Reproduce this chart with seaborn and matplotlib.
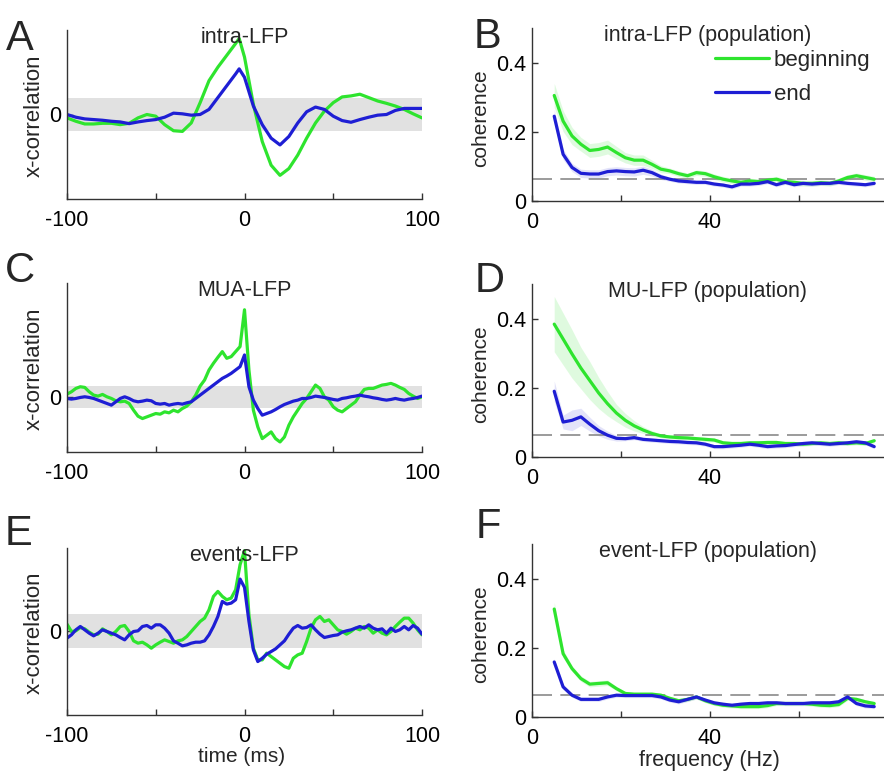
import numpy as np
import pandas as pd
import matplotlib
matplotlib.use("Agg")
import matplotlib.pyplot as plt
import seaborn as sns

# ---------------- data ----------------
# x-correlation panels (arbitrary units, time in ms)
time_a = [-100, -95, -90, -85, -80, -75, -70, -65, -60, -55, -50, -45, -40, -35, -30, -25,
          -20, -15, -10, -5, -3, 0, 5, 10, 15, 20, 25, 30, 35, 40, 45, 50, 55, 60, 65, 70,
          75, 80, 85, 90, 95, 100]
green_a = [-0.10, -0.20, -0.28, -0.28, -0.26, -0.26, -0.30, -0.26, -0.10, 0.00,
           -0.05, -0.30, -0.48, -0.50, -0.25, 0.35, 1.00, 1.40, 1.75, 2.10, 2.25,
           1.70, 0.30, -0.80, -1.50, -1.80, -1.60, -1.20, -0.70, -0.25, 0.10, 0.35,
           0.52, 0.55, 0.60, 0.50, 0.40, 0.33, 0.25, 0.15, 0.02, -0.10]
blue_a = [0.00, -0.08, -0.13, -0.15, -0.17, -0.20, -0.22, -0.27, -0.22, -0.18,
          -0.15, -0.08, 0.04, 0.02, -0.02, 0.00, 0.15, 0.50, 0.85, 1.20, 1.35,
          1.10, 0.25, -0.30, -0.70, -0.90, -0.65, -0.25, 0.08, 0.22, 0.15, -0.05,
          -0.18, -0.23, -0.15, -0.08, -0.02, 0.00, 0.12, 0.18, 0.18, 0.18]

time_ce = np.arange(-100, 100.01, 2.5)
green_c = [0.10, 0.17, 0.27, 0.32, 0.30, 0.17, 0.07, 0.04, 0.09, 0.02,
           -0.03, -0.10, -0.13, -0.11, -0.18, -0.38, -0.56, -0.63, -0.58, -0.53,
           -0.48, -0.50, -0.43, -0.46, -0.38, -0.43, -0.33, -0.26, -0.13, 0.07,
           0.34, 0.52, 0.82, 1.02, 1.20, 1.37, 1.17, 1.22, 1.37, 1.52,
           2.62, 0.82, -0.38, -0.88, -1.23, -1.13, -1.03, -1.23, -1.33, -1.18,
           -0.83, -0.58, -0.38, -0.18, -0.03, 0.17, 0.37, 0.27, 0.02, -0.08,
           -0.28, -0.38, -0.43, -0.33, -0.23, -0.13, 0.07, 0.24, 0.27, 0.27,
           0.32, 0.37, 0.39, 0.42, 0.37, 0.30, 0.24, 0.12, 0.04, -0.03, 0.02]
blue_c = [-0.03, -0.05, -0.03, 0.00, 0.02, 0.00, -0.03, -0.08, -0.13, -0.18,
          -0.23, -0.13, -0.03, 0.02, -0.03, -0.10, -0.13, -0.11, -0.08, -0.10,
          -0.18, -0.20, -0.18, -0.23, -0.20, -0.18, -0.20, -0.16, -0.13, -0.03,
          0.07, 0.17, 0.27, 0.37, 0.47, 0.57, 0.64, 0.72, 0.82, 0.92,
          1.27, 0.32, -0.08, -0.33, -0.53, -0.48, -0.43, -0.36, -0.28, -0.21,
          -0.16, -0.11, -0.08, -0.03, -0.03, 0.00, 0.04, 0.02, 0.00, -0.03,
          -0.06, -0.08, -0.03, -0.01, 0.02, 0.04, 0.07, 0.04, 0.02, -0.01,
          -0.03, -0.06, -0.08, -0.06, -0.03, -0.06, -0.08, -0.05, -0.03, 0.00, 0.04]
green_e = [0.20, -0.02, 0.00, 0.10, 0.06, -0.04, -0.12, -0.10, 0.06, -0.02,
           -0.12, -0.02, 0.13, 0.16, -0.02, -0.30, -0.37, -0.34, -0.42, -0.52,
           -0.42, -0.34, -0.27, -0.32, -0.37, -0.30, -0.27, -0.17, -0.02, 0.13,
           0.28, 0.38, 0.63, 1.03, 1.18, 1.03, 0.93, 0.98, 1.23, 1.98,
           2.40, 0.48, -0.52, -0.87, -0.87, -0.67, -0.77, -0.87, -0.97, -1.07,
           -1.12, -0.82, -0.72, -0.67, -0.32, 0.08, 0.33, 0.43, 0.28, 0.33,
           0.18, 0.03, -0.02, -0.10, -0.02, 0.08, 0.03, 0.13, 0.08, -0.07,
           0.03, -0.07, -0.12, -0.02, 0.13, 0.26, 0.38, 0.38, 0.23, 0.03, -0.12]
blue_e = [-0.22, -0.12, 0.03, 0.13, 0.03, -0.07, -0.15, -0.07, 0.03, -0.02,
          -0.07, -0.12, -0.20, -0.27, -0.12, -0.02, 0.00, 0.13, 0.16, 0.08,
          0.18, 0.18, 0.08, -0.07, -0.30, -0.37, -0.45, -0.42, -0.37, -0.34,
          -0.34, -0.30, -0.12, 0.13, 0.43, 0.88, 0.80, 0.83, 0.93, 1.55,
          1.30, 0.28, -0.57, -0.92, -0.82, -0.70, -0.62, -0.54, -0.42, -0.30,
          -0.10, 0.08, 0.16, 0.08, 0.10, 0.18, 0.03, -0.10, -0.20, -0.17,
          -0.14, -0.12, -0.04, 0.00, 0.03, 0.08, 0.13, 0.08, 0.18, 0.08,
          0.03, 0.06, -0.07, 0.08, -0.02, 0.03, 0.13, 0.03, 0.16, 0.08, -0.10]

# coherence panels (frequency in Hz)
freq = np.arange(5, 78, 2)
green_b = [0.305, 0.231, 0.188, 0.164, 0.146, 0.149, 0.156, 0.140, 0.125, 0.118,
           0.118, 0.106, 0.092, 0.087, 0.079, 0.073, 0.082, 0.079, 0.070, 0.063,
           0.058, 0.054, 0.058, 0.056, 0.060, 0.063, 0.056, 0.054, 0.051, 0.051,
           0.053, 0.051, 0.058, 0.068, 0.073, 0.068, 0.063]
blue_b = [0.245, 0.135, 0.097, 0.080, 0.078, 0.078, 0.085, 0.087, 0.085, 0.084,
          0.089, 0.082, 0.070, 0.063, 0.058, 0.056, 0.054, 0.054, 0.049, 0.046,
          0.041, 0.049, 0.049, 0.051, 0.056, 0.047, 0.054, 0.047, 0.051, 0.049,
          0.051, 0.051, 0.054, 0.051, 0.049, 0.047, 0.051]
green_d = [0.384, 0.341, 0.298, 0.257, 0.221, 0.185, 0.154, 0.127, 0.106, 0.090,
           0.078, 0.068, 0.061, 0.058, 0.056, 0.055, 0.053, 0.051, 0.049, 0.041,
           0.039, 0.039, 0.041, 0.041, 0.042, 0.042, 0.039, 0.039, 0.037, 0.039,
           0.041, 0.039, 0.041, 0.039, 0.041, 0.039, 0.047]
blue_d = [0.190, 0.101, 0.106, 0.116, 0.095, 0.076, 0.063, 0.054, 0.053, 0.056,
          0.051, 0.049, 0.047, 0.045, 0.044, 0.042, 0.041, 0.037, 0.030, 0.030,
          0.032, 0.034, 0.037, 0.034, 0.030, 0.032, 0.033, 0.036, 0.039, 0.041,
          0.039, 0.037, 0.039, 0.041, 0.044, 0.041, 0.030]
green_f = [0.312, 0.183, 0.140, 0.111, 0.095, 0.097, 0.099, 0.082, 0.068, 0.066,
           0.066, 0.066, 0.063, 0.054, 0.047, 0.051, 0.058, 0.047, 0.039, 0.034,
           0.032, 0.030, 0.030, 0.030, 0.033, 0.039, 0.039, 0.039, 0.039, 0.037,
           0.034, 0.033, 0.036, 0.054, 0.051, 0.044, 0.039]
blue_f = [0.159, 0.087, 0.063, 0.051, 0.051, 0.051, 0.058, 0.063, 0.062, 0.062,
          0.062, 0.062, 0.058, 0.049, 0.044, 0.051, 0.058, 0.049, 0.041, 0.037,
          0.034, 0.037, 0.039, 0.039, 0.041, 0.041, 0.039, 0.039, 0.039, 0.041,
          0.041, 0.041, 0.044, 0.058, 0.039, 0.032, 0.030]

# error band half widths
sem_green_b = [0.035, 0.030, 0.025, 0.020, 0.020, 0.020, 0.020, 0.018, 0.015, 0.015,
               0.015, 0.012, 0.010, 0.008, 0.008, 0.008, 0.008, 0.008, 0.008, 0.008,
               0.008, 0.008, 0.008, 0.008, 0.008, 0.008, 0.008, 0.008, 0.008, 0.008,
               0.008, 0.008, 0.008, 0.008, 0.008, 0.008, 0.008]
sem_blue_b = [0.020, 0.015, 0.012, 0.012, 0.012, 0.012, 0.012, 0.012, 0.012, 0.012,
              0.012, 0.010, 0.008, 0.006, 0.006, 0.006, 0.006, 0.006, 0.006, 0.006,
              0.006, 0.006, 0.006, 0.006, 0.006, 0.006, 0.006, 0.006, 0.006, 0.006,
              0.006, 0.006, 0.006, 0.006, 0.006, 0.006, 0.006]
sem_green_d = [0.080, 0.075, 0.070, 0.060, 0.055, 0.045, 0.035, 0.025, 0.020, 0.015,
               0.010, 0.008, 0.006, 0.006, 0.006, 0.006, 0.006, 0.006, 0.006, 0.006,
               0.006, 0.006, 0.006, 0.006, 0.006, 0.006, 0.006, 0.006, 0.006, 0.006,
               0.006, 0.006, 0.006, 0.006, 0.006, 0.006, 0.006]
sem_blue_d = [0.030, 0.020, 0.030, 0.025, 0.020, 0.015, 0.012, 0.008, 0.006, 0.006,
              0.006, 0.006, 0.006, 0.006, 0.006, 0.006, 0.006, 0.006, 0.006, 0.006,
              0.006, 0.006, 0.006, 0.006, 0.006, 0.006, 0.006, 0.006, 0.006, 0.006,
              0.006, 0.006, 0.006, 0.006, 0.006, 0.006, 0.006]
sem_green_f = [0.020, 0.012, 0.008, 0.008, 0.008, 0.008, 0.008, 0.006, 0.006, 0.006,
               0.006, 0.006, 0.006, 0.006, 0.006, 0.006, 0.006, 0.006, 0.006, 0.006,
               0.006, 0.006, 0.006, 0.006, 0.006, 0.006, 0.006, 0.006, 0.006, 0.006,
               0.006, 0.006, 0.006, 0.006, 0.006, 0.006, 0.006]
sem_blue_f = [0.010, 0.008, 0.006, 0.006, 0.006, 0.006, 0.006, 0.006, 0.006, 0.006,
              0.006, 0.006, 0.006, 0.006, 0.006, 0.006, 0.006, 0.006, 0.006, 0.006,
              0.006, 0.006, 0.006, 0.006, 0.006, 0.006, 0.006, 0.006, 0.006, 0.006,
              0.006, 0.006, 0.006, 0.006, 0.006, 0.006, 0.006]

conditions = ["beginning", "end"]
chance_level = 0.065

# ---------------- style ----------------
sns.set_theme(style="ticks")
plt.rcParams["font.family"] = ["Liberation Sans", "DejaVu Sans"]

GREEN = "#2ee42e"
BLUE = "#1e1ed4"
PAL = {"beginning": GREEN, "end": BLUE}
GRAY_BAND = "#e1e1e1"
SPINE = "#333333"
TICK_FS = 15.5
TITLE_FS = 15.5
LW = 2.3

W, H = 884, 779
fig = plt.figure(figsize=(W / 100, H / 100), dpi=100)


def add_ax(left, top, right, bottom):
    return fig.add_axes([left / W, 1 - bottom / H, (right - left) / W, (bottom - top) / H])


def style_ax(ax):
    sns.despine(ax=ax)
    for s in ("left", "bottom"):
        ax.spines[s].set_color(SPINE)
        ax.spines[s].set_linewidth(1.0)
    ax.tick_params(direction="in", length=4, width=1, color=SPINE,
                   labelsize=TICK_FS, labelcolor="black")
    ax.tick_params(axis="x", pad=8)
    ax.tick_params(axis="y", pad=4)
    ax.set_facecolor("white")


def long_df(x, g, b):
    n = len(x)
    return pd.DataFrame({"x": list(x) * 2, "v": list(g) + list(b),
                         "cond": [conditions[0]] * n + [conditions[1]] * n})


def xcorr_panel(ax, t, g, b, band, ylim, title, xlabel=False):
    ax.axhspan(-band, band, color=GRAY_BAND, lw=0, zorder=0)
    sns.lineplot(data=long_df(t, g, b), x="x", y="v", hue="cond", palette=PAL,
                 ax=ax, legend=False, lw=LW, estimator=None, sort=False)
    ax.set_xlim(-100, 100)
    ax.set_ylim(*ylim)
    ax.set_xticks([-100, -50, 0, 50, 100])
    ax.set_xticklabels(["-100", "", "0", "", "100"])
    ax.set_yticks([0])
    ax.set_yticklabels(["0"])
    style_ax(ax)
    ax.set_ylabel("x-correlation", fontsize=16)
    ax.yaxis.set_label_coords(-0.062, 0.49)
    if xlabel:
        ax.set_xlabel("time (ms)", fontsize=15)
        ax.xaxis.label.set_va("top")
        ax.xaxis.set_label_coords(0.493, -0.19)
    else:
        ax.set_xlabel("")
    ax.text(0.5, 0.925, title, transform=ax.transAxes, ha="center", va="baseline",
            fontsize=TITLE_FS)


def coh_panel(ax, f, g, b, sg, sb, title, xlabel=False, legend=False):
    g = np.asarray(g); b = np.asarray(b); sg = np.asarray(sg); sb = np.asarray(sb)
    ax.fill_between(f, g - sg, g + sg, color=GREEN, alpha=0.15, lw=0)
    ax.fill_between(f, b - sb, b + sb, color=BLUE, alpha=0.12, lw=0)
    ax.axhline(chance_level, color="#8a8a8a", lw=1.2, dashes=(12, 5), zorder=1)
    sns.lineplot(data=long_df(f, g, b), x="x", y="v", hue="cond", palette=PAL,
                 ax=ax, legend=legend, lw=LW, estimator=None, sort=False, zorder=3)
    ax.set_xlim(0, 79.2)
    ax.set_ylim(0, 0.5)
    ax.set_xticks([0, 20, 40, 60])
    ax.set_xticklabels(["0", "", "40", ""])
    ax.set_yticks([0, 0.2, 0.4])
    ax.set_yticklabels(["0", "0.2", "0.4"])
    style_ax(ax)
    ax.set_ylabel("coherence", fontsize=15)
    ax.yaxis.set_label_coords(-0.119, 0.48)
    if xlabel:
        ax.set_xlabel("frequency (Hz)", fontsize=15.5)
        ax.xaxis.label.set_va("top")
        ax.xaxis.set_label_coords(0.503, -0.19)
    else:
        ax.set_xlabel("")
    ax.text(0.5, 0.925, title, transform=ax.transAxes, ha="center", va="baseline",
            fontsize=TITLE_FS)
    if legend:
        handles, labels = ax.get_legend_handles_labels()
        ax.legend(handles=handles[-2:], labels=conditions, loc="upper left",
                  bbox_to_anchor=(0.52, 0.875), frameon=False, handlelength=2.45,
                  handletextpad=0.2, labelspacing=0.58, borderpad=0,
                  borderaxespad=0, fontsize=16)


axA = add_ax(67, 30, 422, 199)
axC = add_ax(67, 283, 422, 452)
axE = add_ax(67, 548, 422, 715)
axB = add_ax(532, 28, 884, 201)
axD = add_ax(532, 284, 884, 457)
axF = add_ax(532, 544, 884, 717)

xcorr_panel(axA, time_a, green_a, blue_a, 0.5, (-2.5, 2.5), "intra-LFP")
xcorr_panel(axC, time_ce, green_c, blue_c, 0.33, (-1.63, 3.42), "MUA-LFP")
xcorr_panel(axE, time_ce, green_e, blue_e, 0.5, (-2.52, 2.48), "events-LFP", xlabel=True)

coh_panel(axB, freq, green_b, blue_b, sem_green_b, sem_blue_b,
          "intra-LFP (population)", legend=True)
coh_panel(axD, freq, green_d, blue_d, sem_green_d, sem_blue_d, "MU-LFP (population)")
coh_panel(axF, freq, green_f, blue_f, sem_green_f, sem_blue_f,
          "event-LFP (population)", xlabel=True)

letters = [("A", 20, 39), ("B", 487, 37), ("C", 20, 271),
           ("D", 490, 281), ("E", 19, 534), ("F", 488, 527)]
for s, px, py in letters:
    fig.text(px / W, 1 - py / H, s, fontsize=30, ha="center", va="center")

fig.savefig("out.png", dpi=100, facecolor="white")
